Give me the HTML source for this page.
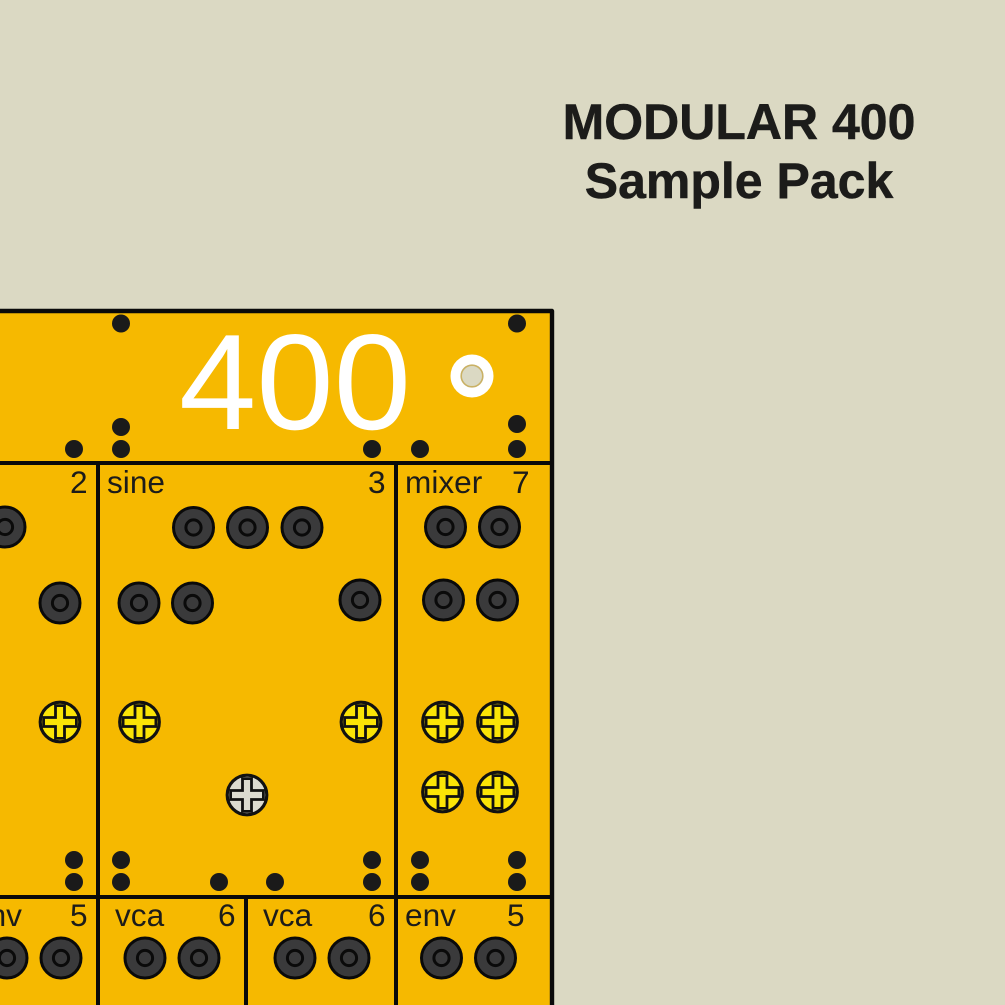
<!DOCTYPE html>
<html>
<head>
<meta charset="utf-8">
<style>
html,body{margin:0;padding:0;background:#dbd9c3;width:1005px;height:1005px;overflow:hidden}
svg{display:block}
text{font-family:"Liberation Sans",sans-serif}
.l{font-size:31.6px;fill:#1c1c1a}
.t{font-size:50px;font-weight:700;fill:#1c1c1a;stroke:#1c1c1a;stroke-width:.5}
</style>
</head>
<body>
<svg width="1005" height="1005" viewBox="0 0 1005 1005" xmlns="http://www.w3.org/2000/svg">
<defs>
<g id="j">
<circle r="20" fill="#3a3a3b" stroke="#0a0a0a" stroke-width="3"/>
<circle r="7.6" fill="#3a3a3b" stroke="#0a0a0a" stroke-width="3"/>
</g>
<g id="sy">
<circle r="19.8" fill="#fbe406" stroke="#111" stroke-width="3.2"/>
<path d="M-4.500,-16.400H4.500V-4.500H16.400V4.500H4.500V16.400H-4.500V4.500H-16.400V-4.500H-4.500Z" fill="#fbe406" stroke="#111" stroke-width="2.8"/>
</g>
<g id="sg">
<circle r="19.8" fill="#dcdbd0" stroke="#111" stroke-width="3.2"/>
<path d="M-4.500,-16.400H4.500V-4.500H16.400V4.500H4.500V16.400H-4.500V4.500H-16.400V-4.500H-4.500Z" fill="#dcdbd0" stroke="#111" stroke-width="2.8"/>
</g>
</defs>
<rect width="1005" height="1005" fill="#dbd9c3"/>
<text class="t" x="739" y="139" text-anchor="middle">MODULAR 400</text>
<text class="t" x="739" y="198" text-anchor="middle">Sample Pack</text>

<rect x="-10" y="311" width="562" height="710" fill="#f6b900"/>
<path d="M-10,311H552V1010" fill="none" stroke="#0a0a0a" stroke-width="4.4" stroke-linejoin="round"/>
<path d="M-10,463H552M-10,897H552M98,463V1010M396,463V1010M246,897V1010" fill="none" stroke="#0a0a0a" stroke-width="4"/>

<text x="179" y="429" font-size="136" fill="#fff" textLength="232" lengthAdjust="spacingAndGlyphs">400</text>
<circle cx="472" cy="376" r="21.5" fill="#fff"/>
<circle cx="472" cy="376" r="10.8" fill="#dbd9c3" stroke="#c9b165" stroke-width="1.6"/>

<g fill="#1a1a1a">
<circle cx="121" cy="323.5" r="9"/><circle cx="517" cy="323.5" r="9"/>
<circle cx="121" cy="427" r="9"/><circle cx="121" cy="449" r="9"/>
<circle cx="74" cy="449" r="9"/><circle cx="372" cy="449" r="9"/>
<circle cx="420" cy="449" r="9"/><circle cx="517" cy="424" r="9"/><circle cx="517" cy="449" r="9"/>
<circle cx="74" cy="860" r="9"/><circle cx="74" cy="882" r="9"/>
<circle cx="121" cy="860" r="9"/><circle cx="121" cy="882" r="9"/>
<circle cx="219" cy="882" r="9"/><circle cx="275" cy="882" r="9"/>
<circle cx="372" cy="860" r="9"/><circle cx="372" cy="882" r="9"/>
<circle cx="420" cy="860" r="9"/><circle cx="420" cy="882" r="9"/>
<circle cx="517" cy="860" r="9"/><circle cx="517" cy="882" r="9"/>
</g>

<text class="l" x="70" y="493">2</text>
<text class="l" x="107" y="493">sine</text>
<text class="l" x="368" y="493">3</text>
<text class="l" x="405" y="493">mixer</text>
<text class="l" x="512" y="493">7</text>
<text class="l" x="-29" y="926">env</text>
<text class="l" x="70" y="926">5</text>
<text class="l" x="115" y="926">vca</text>
<text class="l" x="218" y="926">6</text>
<text class="l" x="263" y="926">vca</text>
<text class="l" x="368" y="926">6</text>
<text class="l" x="405" y="926">env</text>
<text class="l" x="507" y="926">5</text>

<use href="#j" x="5" y="527"/>
<use href="#j" x="193.500" y="527.500"/><use href="#j" x="247.500" y="527.500"/><use href="#j" x="302" y="527.500"/>
<use href="#j" x="445.500" y="527"/><use href="#j" x="499.500" y="527"/>
<use href="#j" x="60" y="603"/>
<use href="#j" x="139" y="603"/><use href="#j" x="192.500" y="603"/>
<use href="#j" x="360" y="600"/>
<use href="#j" x="443.500" y="600"/><use href="#j" x="497.500" y="600"/>
<use href="#j" x="7" y="958"/><use href="#j" x="61" y="958"/>
<use href="#j" x="145" y="958"/><use href="#j" x="199" y="958"/>
<use href="#j" x="295" y="958"/><use href="#j" x="349" y="958"/>
<use href="#j" x="441.500" y="958"/><use href="#j" x="495.500" y="958"/>

<use href="#sy" x="60" y="722"/><use href="#sy" x="139.500" y="722"/><use href="#sy" x="361" y="722"/>
<use href="#sy" x="442.500" y="722"/><use href="#sy" x="497.500" y="722"/>
<use href="#sy" x="442.500" y="792"/><use href="#sy" x="497.500" y="792"/>
<use href="#sg" x="247" y="795"/>
</svg>
</body>
</html>
